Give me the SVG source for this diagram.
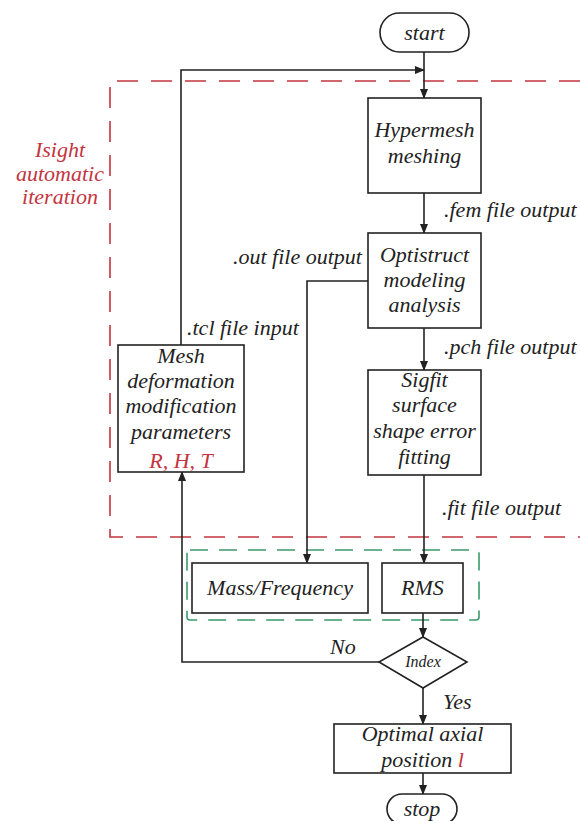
<svg xmlns="http://www.w3.org/2000/svg" width="580" height="821" viewBox="0 0 580 821">
<style>
.box{fill:#fff;stroke:#222;stroke-width:1.6}
.t{font-family:"Liberation Serif",serif;font-style:italic;font-size:22px;fill:#222;text-anchor:middle}
.lbl{font-family:"Liberation Serif",serif;font-style:italic;font-size:22px;fill:#222}
.red{fill:#c4343e}
.ln{fill:none;stroke:#222;stroke-width:1.6}
</style>
<defs>
<marker id="ar" markerWidth="10" markerHeight="8" refX="9" refY="4" orient="auto" markerUnits="userSpaceOnUse">
<path d="M0,0 L10,4 L0,8 Z" fill="#222"/>
</marker>
</defs>
<g id="groups">
<path d="M580,81 H110 V537 H580" fill="none" stroke="#c4343e" stroke-width="1.6" stroke-dasharray="21 13"/>
<rect x="187" y="550" width="292" height="70" rx="3" fill="none" stroke="#3a9a6a" stroke-width="1.6" stroke-dasharray="18 11"/>
<text class="t red" x="60" y="157">Isight</text>
<text class="t red" x="60" y="181">automatic</text>
<text class="t red" x="60" y="204">iteration</text>
</g>
<g id="connectors">
<line class="ln" x1="424" y1="52" x2="424" y2="98" marker-end="url(#ar)"/>
<polyline class="ln" points="181,345 181,70 424,70" marker-end="url(#ar)"/>
<line class="ln" x1="424" y1="193" x2="424" y2="233" marker-end="url(#ar)"/>
<polyline class="ln" points="368,281 307,281 307,563" marker-end="url(#ar)"/>
<line class="ln" x1="424" y1="328" x2="424" y2="370" marker-end="url(#ar)"/>
<line class="ln" x1="424" y1="475" x2="424" y2="563" marker-end="url(#ar)"/>
<line class="ln" x1="423" y1="613" x2="423" y2="637" marker-end="url(#ar)"/>
<polyline class="ln" points="379,662 182,662 182,472" marker-end="url(#ar)"/>
<line class="ln" x1="423" y1="688" x2="423" y2="724" marker-end="url(#ar)"/>
<line class="ln" x1="423" y1="773" x2="423" y2="794" marker-end="url(#ar)"/>
<text class="lbl" x="444" y="217">.fem file output</text>
<text class="lbl" x="233" y="264">.out file output</text>
<text class="lbl" x="187" y="335">.tcl file input</text>
<text class="lbl" x="444" y="354">.pch file output</text>
<text class="lbl" x="442" y="515">.fit file output</text>
<text class="lbl" x="330" y="654">No</text>
<text class="lbl" x="443" y="709">Yes</text>
</g>
<g id="start">
<rect class="box" x="380" y="13" width="89" height="39" rx="19.5"/>
<text class="t" x="424.5" y="40">start</text>
</g>
<g id="hypermesh">
<rect class="box" x="368" y="98" width="113" height="95"/>
<text class="t" x="424.5" y="137">Hypermesh</text>
<text class="t" x="424.5" y="163">meshing</text>
</g>
<g id="optistruct">
<rect class="box" x="368" y="233" width="113" height="95"/>
<text class="t" x="424.5" y="262">Optistruct</text>
<text class="t" x="424.5" y="287">modeling</text>
<text class="t" x="424.5" y="312">analysis</text>
</g>
<g id="sigfit">
<rect class="box" x="368" y="370" width="113" height="105"/>
<text class="t" x="424.5" y="387">Sigfit</text>
<text class="t" x="424.5" y="412">surface</text>
<text class="t" x="424.5" y="438">shape error</text>
<text class="t" x="424.5" y="464">fitting</text>
</g>
<g id="mesh">
<rect class="box" x="118" y="345" width="126" height="127"/>
<text class="t" x="181" y="363">Mesh</text>
<text class="t" x="181" y="388">deformation</text>
<text class="t" x="181" y="413">modification</text>
<text class="t" x="181" y="439">parameters</text>
<text class="t red" x="181" y="468">R, H, T</text>
</g>
<g id="massfreq">
<rect class="box" x="192" y="563" width="176" height="50"/>
<text class="t" x="280" y="595">Mass/Frequency</text>
</g>
<g id="rms">
<rect class="box" x="382" y="563" width="81" height="50"/>
<text class="t" x="422.5" y="595">RMS</text>
</g>
<g id="index">
<polygon class="box" points="423,637 467,662 423,688 379,662"/>
<text class="t" x="423" y="667" style="font-size:16px">Index</text>
</g>
<g id="optimal">
<rect class="box" x="334" y="724" width="177" height="49"/>
<text class="t" x="422.5" y="741">Optimal axial</text>
<text class="t" x="422.5" y="767">position <tspan class="red">l</tspan></text>
</g>
<g id="stop">
<rect class="box" x="387" y="794" width="70" height="30" rx="15"/>
<text class="t" x="422" y="816">stop</text>
</g>
</svg>
